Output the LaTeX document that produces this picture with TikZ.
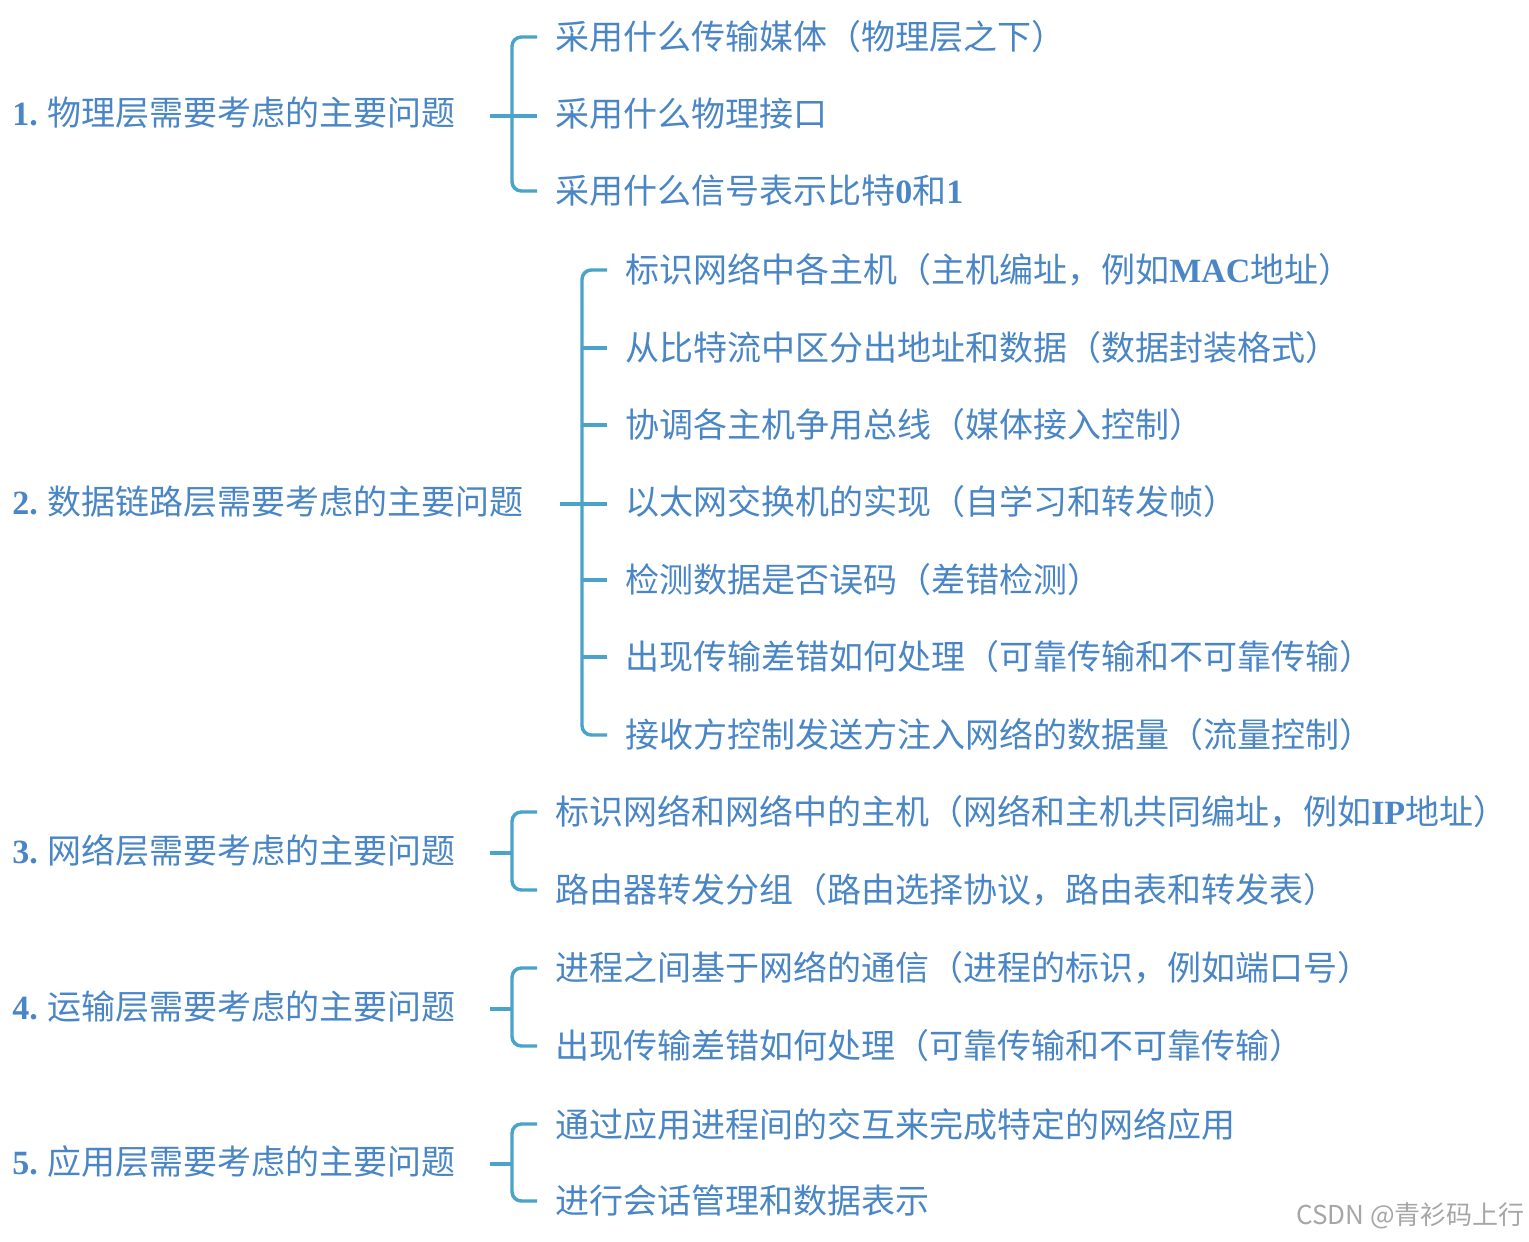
\documentclass[tikz,border=0pt]{standalone}
\usepackage{fontspec}
\setmainfont{Noto Sans CJK SC}
\newfontfamily\latf{Liberation Serif}[BoldFont={Liberation Serif Bold}]
\newcommand{\lt}[1]{{\latf\bfseries #1}}
\definecolor{txt}{HTML}{4A86C5}
\definecolor{brk}{HTML}{4AA3C8}
\begin{document}
\begin{tikzpicture}[x=0.75pt,y=-0.75pt,
  lab/.style={anchor=west,text=txt,font=\fontsize{25.5}{30}\selectfont,inner sep=0pt},
  itm/.style={anchor=west,text=txt,font=\fontsize{25.5}{30}\selectfont,inner sep=0pt},
  br/.style={draw=brk,line width=2.6pt,rounded corners=7pt}]
\useasboundingbox (0,0) rectangle (1529,1242);
% group 1
\node[lab] (g1) at (12,113) {\lt{1.} 物理层需要考虑的主要问题};
\node[itm] (a1) at (555,37) {采用什么传输媒体（物理层之下）};
\node[itm] (a2) at (555,114) {采用什么物理接口};
\node[itm] (a3) at (555,191) {采用什么信号表示比特\lt{0}和\lt{1}};
\coordinate (s1) at (490,116);
\draw[br] (537,37) -- (512,37) -- (512,191) -- (537,191);
\draw[br] (s1) -- (537,116);
% group 2
\node[lab] (g2) at (12,502) {\lt{2.} 数据链路层需要考虑的主要问题};
\node[itm] (b1) at (625,270) {标识网络中各主机（主机编址，例如\lt{MAC}地址）};
\node[itm] (b2) at (625,348) {从比特流中区分出地址和数据（数据封装格式）};
\node[itm] (b3) at (625,425) {协调各主机争用总线（媒体接入控制）};
\node[itm] (b4) at (625,502) {以太网交换机的实现（自学习和转发帧）};
\node[itm] (b5) at (625,580) {检测数据是否误码（差错检测）};
\node[itm] (b6) at (625,657) {出现传输差错如何处理（可靠传输和不可靠传输）};
\node[itm] (b7) at (625,735) {接收方控制发送方注入网络的数据量（流量控制）};
\draw[br] (607,270) -- (582,270) -- (582,735) -- (607,735);
\foreach \yy in {348,425,580,657} \draw[br] (582,\yy) -- (607,\yy);
\coordinate (s2) at (560,504);
\draw[br] (s2) -- (607,504);
% group 3
\node[lab] (g3) at (12,851) {\lt{3.} 网络层需要考虑的主要问题};
\node[itm] (c1) at (555,812) {标识网络和网络中的主机（网络和主机共同编址，例如\lt{IP}地址）};
\node[itm] (c2) at (555,890) {路由器转发分组（路由选择协议，路由表和转发表）};
\draw[br] (537,812) -- (512,812) -- (512,890) -- (537,890);
\coordinate (s3) at (490,853);
\draw[br] (s3) -- (512,853);
% group 4
\node[lab] (g4) at (12,1007) {\lt{4.} 运输层需要考虑的主要问题};
\node[itm] (d1) at (555,968) {进程之间基于网络的通信（进程的标识，例如端口号）};
\node[itm] (d2) at (555,1046) {出现传输差错如何处理（可靠传输和不可靠传输）};
\draw[br] (537,968) -- (512,968) -- (512,1046) -- (537,1046);
\coordinate (s4) at (490,1009);
\draw[br] (s4) -- (512,1009);
% group 5
\node[lab] (g5) at (12,1162) {\lt{5.} 应用层需要考虑的主要问题};
\node[itm] (e1) at (555,1124) {通过应用进程间的交互来完成特定的网络应用};
\node[itm] (e2) at (555,1201) {进行会话管理和数据表示};
\draw[br] (537,1124) -- (512,1124) -- (512,1201) -- (537,1201);
\coordinate (s5) at (490,1164);
\draw[br] (s5) -- (512,1164);
\node[anchor=east,text=black!35,font=\fontsize{19.5}{22}\selectfont,inner sep=0pt] (wm) at (1525,1216) {CSDN @青衫码上行};
\end{tikzpicture}
\end{document}
